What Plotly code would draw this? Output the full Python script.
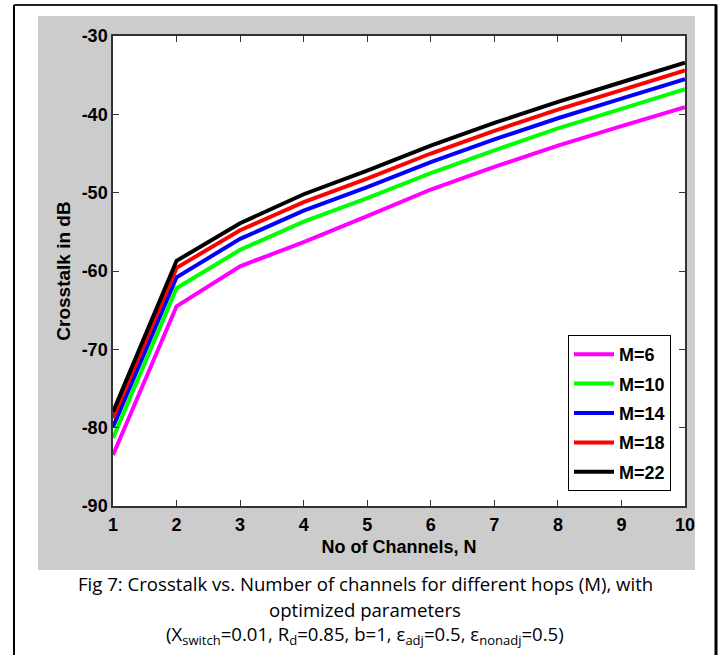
import plotly.graph_objects as go

N = [1, 2, 3, 4, 5, 6, 7, 8, 9, 10]
series_names = ["M=6", "M=10", "M=14", "M=18", "M=22"]
series_colors = ["#ff00ff", "#00ff00", "#0000ff", "#ff0000", "#000000"]
m6 = [-83.5, -64.5, -59.4, -56.3, -53.0, -49.6, -46.7, -44.0, -41.5, -39.1]
m10 = [-81.3, -62.2, -57.3, -53.7, -50.7, -47.5, -44.6, -41.8, -39.3, -36.8]
m14 = [-79.9, -60.8, -55.9, -52.3, -49.3, -46.1, -43.2, -40.5, -38.0, -35.5]
m18 = [-78.8, -59.6, -54.8, -51.2, -48.2, -45.0, -42.1, -39.4, -36.9, -34.4]
m22 = [-78.0, -58.7, -53.9, -50.2, -47.2, -44.0, -41.1, -38.4, -35.9, -33.4]
series_values = [m6, m10, m14, m18, m22]

x_ticks = [1, 2, 3, 4, 5, 6, 7, 8, 9, 10]
x_ticktext = ["1", "2", "3", "4", "5", "6", "7", "8", "9", "10"]
y_ticks = [-90, -80, -70, -60, -50, -40, -30]
y_ticktext = ["-90", "-80", "-70", "-60", "-50", "-40", "-30"]

caption_lines = [
    "Fig 7: Crosstalk vs. Number of channels for different hops (M), with",
    "optimized parameters",
    "(X<sub>switch</sub>=0.01, R<sub>d</sub>=0.85, b=1, \u03b5<sub>adj</sub>=0.5, \u03b5<sub>nonadj</sub>=0.5)",
]

W, H = 722, 655
L, R, T, B = 113, 37, 36, 149
pw, ph = W - L - R, H - T - B


def px(x):
    return (x - L) / pw


def py(y):
    return (H - B - y) / ph


fig = go.Figure()
for name, color, vals in zip(series_names, series_colors, series_values):
    fig.add_trace(go.Scatter(x=N, y=vals, mode="lines", name=name,
                             legendgroup=name,
                             line=dict(color=color, width=4)))

tick_font = dict(family="Liberation Sans, Arial", size=18, color="black", weight="bold")
xt_font = dict(family="Liberation Sans, Arial", size=18, color="black", weight="bold")
yt_font = dict(family="Liberation Sans, Arial", size=19, color="black", weight="bold")

axis_common = dict(showline=True, linecolor="#333333", linewidth=1.5, mirror="ticks",
                   ticks="inside", ticklen=6, tickcolor="#333333", tickwidth=1,
                   showgrid=False, zeroline=False, tickfont=tick_font)

fig.update_layout(
    width=W, height=H,
    margin=dict(l=L, r=R, t=T, b=B),
    paper_bgcolor="white", plot_bgcolor="white",
    xaxis=dict(range=[1, 10], tickvals=x_ticks, ticktext=x_ticktext, automargin=False,
               ticklabelstandoff=2,
               title=dict(text="No of Channels, N", font=xt_font, standoff=6), **axis_common),
    yaxis=dict(range=[-90, -30], tickvals=y_ticks, ticktext=y_ticktext, automargin=False,
               ticklabelstandoff=0,
               title=dict(text="Crosstalk in dB", font=yt_font, standoff=6), **axis_common),
    legend=dict(x=px(671), y=py(491), xanchor="right", yanchor="bottom",
                bgcolor="white", bordercolor="black", borderwidth=1,
                font=tick_font, tracegroupgap=3, itemwidth=40),
    showlegend=True,
)

shapes = [
    dict(type="rect", xref="paper", yref="paper", x0=px(38), x1=px(695), y0=py(570), y1=py(16),
         fillcolor="#cccccc", line=dict(width=0), layer="below"),
    dict(type="rect", xref="paper", yref="paper", x0=0, x1=1, y0=0, y1=1,
         fillcolor="white", line=dict(width=0), layer="below"),
    dict(type="line", xref="paper", yref="paper", x0=px(14), x1=px(14), y0=py(5), y1=py(660),
         line=dict(color="black", width=2)),
    dict(type="line", xref="paper", yref="paper", x0=px(14), x1=px(717), y0=py(5), y1=py(5),
         line=dict(color="#222222", width=2)),
    dict(type="line", xref="paper", yref="paper", x0=px(716), x1=px(716), y0=py(5), y1=py(660),
         line=dict(color="black", width=3)),
]
fig.update_layout(shapes=shapes)

cap_font = dict(family="Open Sans", size=18.6, color="black")
for txt, yy in zip(caption_lines, [583, 609, 635]):
    fig.add_annotation(text=txt, xref="paper", yref="paper", x=px(365), y=py(yy),
                       xanchor="center", yanchor="middle", showarrow=False, font=cap_font)

fig.write_html("out.html")
